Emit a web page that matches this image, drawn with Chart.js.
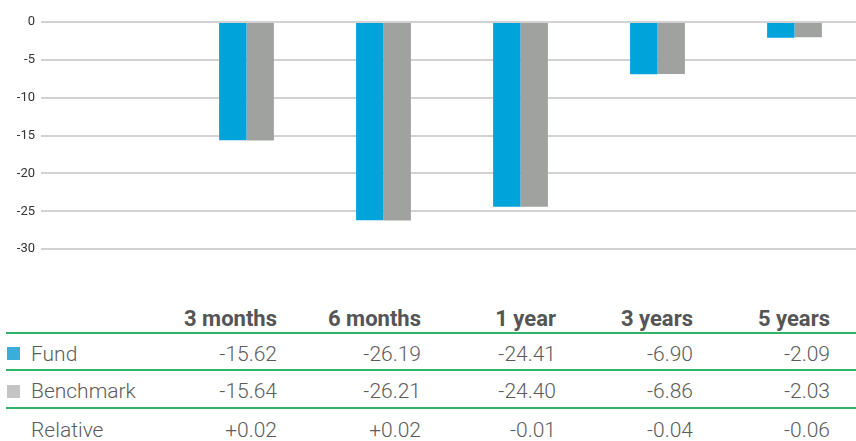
<!DOCTYPE html>
<html>
<head>
<meta charset="utf-8">
<script src="https://cdn.jsdelivr.net/npm/chart.js@4/dist/chart.umd.min.js"></script>
<style>
  body { margin: 0; width: 856px; height: 441px; overflow: hidden; background: #fff; font-family: Roboto, "Liberation Sans", sans-serif; }
  #chart-div { position: absolute; left: 0; top: 0; width: 863px; height: 263px; }
  #perf-table { position: absolute; left: 6px; top: 296px; width: 850px; color: #5c5c5c; font-size: 21px; font-weight: 300; }
  .row { display: flex; align-items: center; box-sizing: border-box; height: 37.5px; padding-top: 5px; border-bottom: 2px solid #2db56a; }
  .row.head { font-weight: 700; font-size: 22px; color: #555; padding-top: 9px; }
  .row.last { border-bottom: none; }
  .cell { text-align: right; }
  .lab { width: 140px; text-align: left; display: flex; align-items: center; }
  .sw { width: 13px; height: 13px; margin: 0 11px 0 1px; display: inline-block; }
</style>
</head>
<body>
<div id="chart-div"><canvas id="barChart"></canvas></div>
<div id="perf-table"></div>
<script>
/* ---------------------------- Data --------------------------------------------- */

const periods = ['3 months', '6 months', '1 year', '3 years', '5 years']
const fundValues = [-15.62, -26.19, -24.41, -6.90, -2.09]
const benchmarkValues = [-15.64, -26.21, -24.40, -6.86, -2.03]
const relativeValues = ['+0.02', '+0.02', '-0.01', '-0.04', '-0.06']
const yTicks = [0, -5, -10, -15, -20, -25, -30]

const fundColor = '#00a3da'
const benchColor = '#a0a2a0'

/* ---------------------------- Bar chart --------------------------------------------- */

// first slot is left empty in the original layout
const labels = [''].concat(periods)

const data = {
    labels: labels,
    datasets: [{
        label: 'Fund',
        data: [null].concat(fundValues),
        backgroundColor: fundColor,
        categoryPercentage: 0.4,
        barPercentage: 1.0
    },{
        label: 'Benchmark',
        data: [null].concat(benchmarkValues),
        backgroundColor: benchColor,
        categoryPercentage: 0.4,
        barPercentage: 1.0
    }]
}

const config = {
    type: 'bar',
    data: data,
    options: {
        responsive: true,
        maintainAspectRatio: false,
        animation: false,
        layout: { padding: { top: 22, bottom: 9, right: 0, left: 0 } },
        plugins: {
            legend: { display: false },
            tooltip: { enabled: false }
        },
        scales: {
            x: { display: false },
            y: {
                min: -30,
                max: 0,
                afterBuildTicks: axis => { axis.ticks = yTicks.map(v => ({ value: v })) },
                afterFit: axis => { axis.width = 41 },
                border: { display: false },
                grid: { color: '#d2d2d2', lineWidth: 2, drawTicks: false },
                ticks: {
                    padding: 6,
                    color: '#333',
                    font: { family: 'Roboto', size: 13 }
                }
            }
        }
    }
}

const ctx = document.getElementById('barChart')
const barChart = new Chart(ctx, config)

/* ---------------------------- Table --------------------------------------------- */

const colWidths = [131, 144, 135, 137, 137]
const tableDiv = document.getElementById('perf-table')

const makeRow = (cls, labelHtml, cells) => {
    const row = document.createElement('div')
    row.className = 'row ' + cls
    const lab = document.createElement('div')
    lab.className = 'lab'
    lab.innerHTML = labelHtml
    row.appendChild(lab)
    cells.forEach((txt, i) => {
        const c = document.createElement('div')
        c.className = 'cell'
        c.style.width = colWidths[i] + 'px'
        c.textContent = txt
        row.appendChild(c)
    })
    tableDiv.appendChild(row)
}

makeRow('head', '', periods)
makeRow('', `<span class="sw" style="background:#3aaed8"></span>Fund`, fundValues.map(v => v.toFixed(2)))
makeRow('', `<span class="sw" style="background:#c4c4c4"></span>Benchmark`, benchmarkValues.map(v => v.toFixed(2)))
makeRow('last', `<span class="sw"></span>Relative`, relativeValues)
</script>
</body>
</html>
